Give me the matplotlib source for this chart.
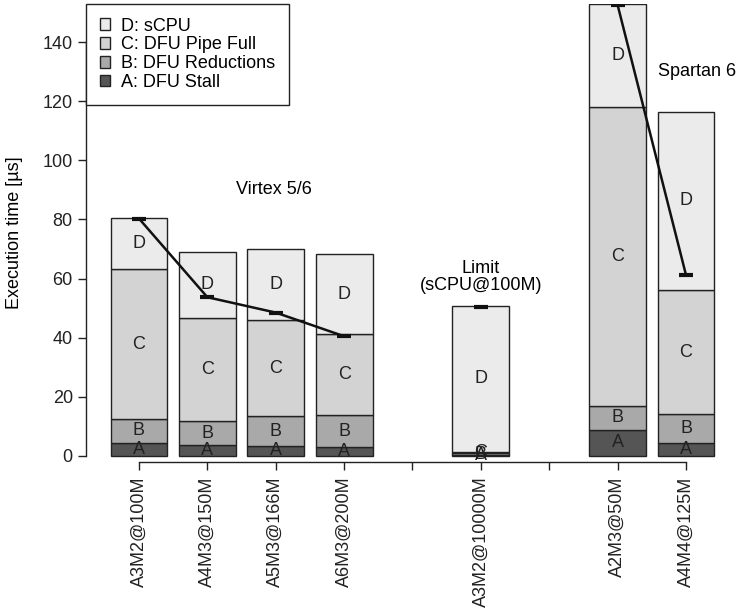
import numpy as np
import matplotlib.pyplot as plt
from matplotlib.patches import Patch

plt.rcParams['font.family'] = ['Liberation Sans', 'DejaVu Sans']
plt.rcParams['font.size'] = 13

# data (segments of each stacked bar, in microseconds)
labels = ['A3M2@100M', 'A4M3@150M', 'A5M3@166M', 'A6M3@200M',
          'A3M2@10000M', 'A2M3@50M', 'A4M4@125M']
group_sizes = [4, 1, 2]
group_names = ['Virtex 5/6', 'Limit\n(sCPU@100M)', 'Spartan 6']
stall = [4.5, 3.7, 3.4, 2.9, 0.3, 8.8, 4.5]
reductions = [8.1, 8.0, 10.1, 11.0, 0.7, 8.2, 9.6]
pipe_full = [50.5, 35.1, 32.5, 27.2, 0.5, 101.1, 42.0]
scpu = [17.4, 22.3, 24.0, 27.1, 49.2, 34.8, 60.3]
measured = [80.3, 53.7, 48.5, 40.5, 50.5, 152.5, 61.2]

seg_names = ['A: DFU Stall', 'B: DFU Reductions', 'C: DFU Pipe Full', 'D: sCPU']
seg_letters = ['A', 'B', 'C', 'D']
seg_colors = ['#555555', '#a9a9a9', '#d3d3d3', '#ebebeb']

# positions: one empty slot between groups
pos = []
tick_pos = []
x = 1
for gi, n in enumerate(group_sizes):
    if gi > 0:
        tick_pos.append(x)
        x += 1
    for k in range(n):
        pos.append(x)
        tick_pos.append(x)
        x += 1
pos = np.array(pos)

fig = plt.figure(figsize=(7.41, 6.15), dpi=100)
ax = fig.add_axes([86 / 741, 1 - 462 / 615, (739 - 86) / 741, (462 - 4) / 615])

segs = [stall, reductions, pipe_full, scpu]
bottom = np.zeros(len(pos))
for vals, col, letter in zip(segs, seg_colors, seg_letters):
    vals = np.array(vals)
    ax.bar(pos, vals, bottom=bottom, width=0.833, color=col,
           edgecolor='#222222', linewidth=1.0, zorder=2)
    for xp, b, v in zip(pos, bottom, vals):
        ax.text(xp, b + v / 2, letter, ha='center', va='center',
                fontsize=13, color='#222222', zorder=3)
    bottom = bottom + vals

# measured line, connected inside each group
start = 0
for n in group_sizes:
    sl = slice(start, start + n)
    ax.plot(pos[sl], measured[sl], color='#111111', lw=1.8, zorder=4,
            marker='_', markersize=10, markeredgewidth=3)
    start += n

# group annotations
ax.text(2.97, 90, group_names[0], ha='center', va='center', fontsize=13)
ax.text(pos[4], 60.5, group_names[1], ha='center', va='center', fontsize=13,
        linespacing=1.05)
ax.text(9.16, 130, group_names[2], ha='center', va='center', fontsize=13)

ax.set_xlim(0.225, 9.775)
ax.set_ylim(-2.03, 152.86)
ax.set_yticks(np.arange(0, 141, 20))
ax.set_xticks(tick_pos)
tl = []
i = 0
for t in tick_pos:
    if t in pos:
        tl.append(labels[i])
        i += 1
    else:
        tl.append('')
ax.set_xticklabels(tl, rotation=90, va='top', ha='center')

for s in ['top', 'right']:
    ax.spines[s].set_visible(False)
ax.spines['left'].set_bounds(0, 140)
ax.spines['bottom'].set_bounds(1, tick_pos[-1])
for s in ['left', 'bottom']:
    ax.spines[s].set_color('#222222')
    ax.spines[s].set_linewidth(1.0)
ax.tick_params(direction='out', length=5.5, width=1.0, color='#222222',
               labelcolor='#222222')
ax.tick_params(axis='y', pad=4)
ax.tick_params(axis='x', pad=5)
ax.set_ylabel('Execution time [µs]', fontsize=13, labelpad=14)

handles = [Patch(facecolor=c, edgecolor='#222222', lw=1.0) for c in seg_colors]
leg = ax.legend(handles[::-1], seg_names[::-1], loc='upper left',
                bbox_to_anchor=(0, 1), borderaxespad=0, fancybox=False,
                edgecolor='#222222', framealpha=1, handlelength=0.6,
                handleheight=0.6, handletextpad=0.6, labelspacing=0.1,
                borderpad=0.75, fontsize=13)
leg.get_frame().set_linewidth(1.0)
leg.set_zorder(5)

fig.savefig('out.png', dpi=100)
